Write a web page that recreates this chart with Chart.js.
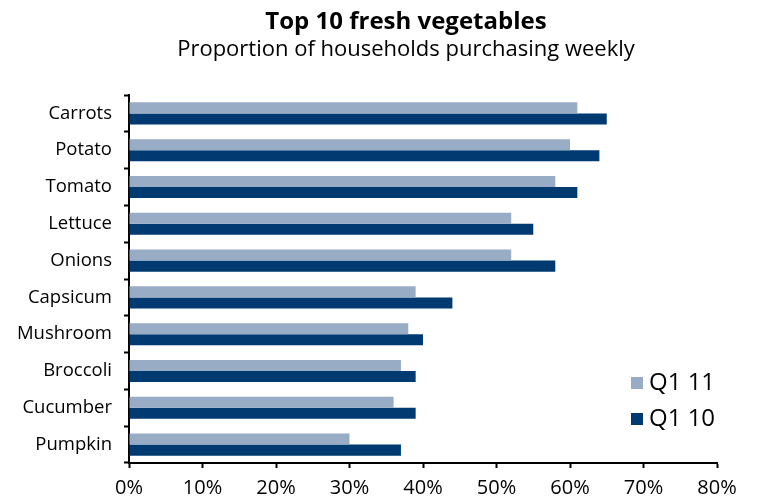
<!DOCTYPE html>
<html>
<head>
<meta charset="utf-8">
<title>Top 10 fresh vegetables</title>
<script src="https://cdn.jsdelivr.net/npm/chart.js@4.4.0/dist/chart.umd.min.js"></script>
<style>
  html, body { margin: 0; padding: 0; background: #fff; }
  #wrap { width: 758px; height: 499px; }
</style>
</head>
<body>
<div id="wrap"><canvas id="vegChart" width="758" height="499"></canvas></div>
<script>
// vegetables, top to bottom
const vegetables = ['Carrots', 'Potato', 'Tomato', 'Lettuce', 'Onions', 'Capsicum', 'Mushroom', 'Broccoli', 'Cucumber', 'Pumpkin'];

// % of households buying weekly
const q1_11 = [61, 60, 58, 52, 52, 39, 38, 37, 36, 30];
const q1_10 = [65, 64, 61, 55, 58, 44, 40, 39, 39, 37];

const seriesNames = ['Q1 11', 'Q1 10'];
const seriesColors = ['#98adc5', '#003a70'];

const chartTitle = 'Top 10 fresh vegetables';
const chartSubtitle = 'Proportion of households purchasing weekly';

const FONT = "'Open Sans', 'DejaVu Sans', sans-serif";

// heading block, centred a little right of the canvas middle
const heading = {
	id: 'heading',
	afterDraw(chart) {
		const ctx = chart.ctx;
		ctx.save();
		ctx.fillStyle = '#000';
		ctx.textAlign = 'center';
		ctx.textBaseline = 'alphabetic';
		ctx.font = 'bold 24px ' + FONT;
		ctx.fillText(chartTitle, 406, 29);
		ctx.font = '22px ' + FONT;
		ctx.fillText(chartSubtitle, 406, 56);
		ctx.restore();
	}
};

// legend sits inside the plot, bottom right
const cornerLegend = {
	id: 'cornerLegend',
	afterDraw(chart) {
		const ctx = chart.ctx;
		const area = chart.chartArea;
		ctx.save();
		ctx.font = '24px ' + FONT;
		ctx.textBaseline = 'middle';
		ctx.textAlign = 'left';
		chart.data.datasets.forEach((ds, i) => {
			const y = area.bottom - 80 + i * 36;
			ctx.fillStyle = ds.backgroundColor;
			ctx.fillRect(area.right - 86, y - 6, 12, 12);
			ctx.fillStyle = '#000';
			ctx.fillText(ds.label, area.right - 68, y);
		});
		ctx.restore();
	}
};

const data = {
	labels: vegetables,
	datasets: [{
		label: seriesNames[0],
		data: q1_11,
		backgroundColor: seriesColors[0],
		categoryPercentage: 0.6,
		barPercentage: 1.0
	}, {
		label: seriesNames[1],
		data: q1_10,
		backgroundColor: seriesColors[1],
		categoryPercentage: 0.6,
		barPercentage: 1.0
	}]
};

const config = {
	type: 'bar',
	data: data,
	plugins: [heading, cornerLegend],
	options: {
		indexAxis: 'y',
		responsive: false,
		animation: false,
		layout: {
			padding: { left: 0, right: 41, top: 95, bottom: 0 }
		},
		scales: {
			x: {
				min: 0,
				max: 80,
				ticks: {
					stepSize: 10,
					color: '#000',
					padding: 8,
					font: { family: FONT, size: 20 },
					callback: v => v + '%'
				},
				grid: {
					drawOnChartArea: false,
					tickLength: 5,
					tickColor: '#000',
					tickWidth: 2
				},
				border: { color: '#000', width: 2 },
				afterFit: scale => { scale.height = 36; }
			},
			y: {
				ticks: {
					color: '#000',
					padding: 12,
					font: { family: FONT, size: 18.5 }
				},
				grid: {
					offset: true,
					drawOnChartArea: false,
					tickLength: 5,
					tickColor: '#000',
					tickWidth: 2
				},
				border: { color: '#000', width: 2 },
				afterFit: scale => { scale.width = 129; }
			}
		},
		plugins: {
			legend: { display: false },
			tooltip: { enabled: false },
			title: { display: false }
		}
	}
};

document.addEventListener('DOMContentLoaded', () => {
	const ctx = document.getElementById('vegChart').getContext('2d');
	new Chart(ctx, config);
});
</script>
</body>
</html>
